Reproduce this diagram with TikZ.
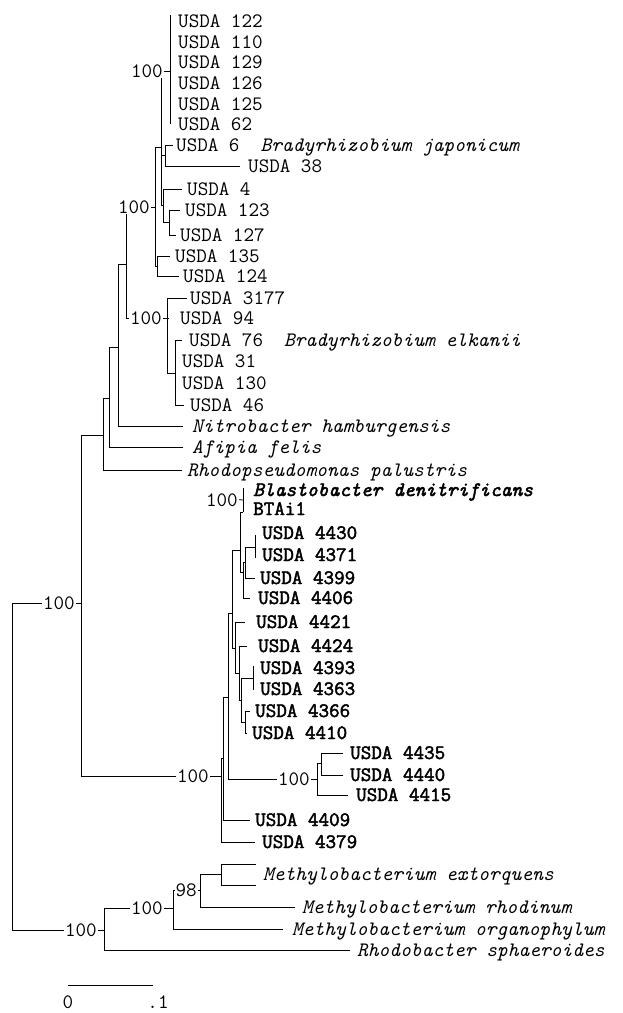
\documentclass[tikz,border=0pt]{standalone}
\usepackage{fontspec}
\newfontfamily\bcour[FakeBold=2.2]{Latin Modern Mono}
\begin{document}
\begin{tikzpicture}[x=1pt,y=-1pt,
  br/.style={line width=0.8pt,black},
  lab/.style={font=\ttfamily\fontsize{20.5}{22}\selectfont, anchor=base west, inner sep=0pt, yshift=-6pt},
  blab/.style={lab, font=\bcour\fontsize{20.5}{22}\selectfont},
  bs/.style={font=\ttfamily\fontsize{20.5}{22}\selectfont, anchor=base east, fill=white, inner xsep=1pt, inner ysep=0.5pt, yshift=-6pt}]
\useasboundingbox[fill=white] (0,0) rectangle (622,1013);
% ---------- internal nodes ----------
\coordinate (R) at (12,766);
\coordinate (N81) at (81,603);
\coordinate (N103) at (103,435);
\coordinate (N109) at (109,398);
\coordinate (N118) at (118,347);
\coordinate (N126) at (126,264);
\coordinate (N155) at (155,207);
\coordinate (N161) at (161,147);
\coordinate (C1) at (170,71);
\coordinate (C1a) at (170,15);
\coordinate (C1b) at (170,124);
\coordinate (N165) at (165,155);
\coordinate (N163) at (163,205);
\coordinate (N169) at (169,222);
\coordinate (N157) at (157,266);
\coordinate (N167) at (167,318);
\coordinate (N175) at (175,373);
% blastobacter clade
\coordinate (N221) at (221,776);
\coordinate (N223) at (223,758);
\coordinate (N228) at (228,697);
\coordinate (N232) at (232,613);
\coordinate (N240) at (240,550);
\coordinate (Nbl) at (243,512);
\coordinate (Nblm) at (243,500);
\coordinate (Bla) at (243,488);
\coordinate (N243) at (243,572);
\coordinate (N245) at (245,562);
\coordinate (C44) at (255,547);
\coordinate (C44a) at (255,535);
\coordinate (C44b) at (255,558);
\coordinate (N235) at (235,648);
\coordinate (N239) at (239,673);
\coordinate (N241) at (241,700);
\coordinate (C43) at (253,678);
\coordinate (C43a) at (253,666);
\coordinate (C43b) at (253,690);
\coordinate (N245b) at (245,722);
\coordinate (N317) at (317,779);
\coordinate (N321) at (321,763);
% methylobacterium
\coordinate (N104) at (104,930);
\coordinate (N173) at (173,908);
\coordinate (N200) at (200,890);
\coordinate (N221m) at (221,874);
% ---------- tips ----------
\coordinate (T6) at (173,145);
\coordinate (T38) at (240,166);
\coordinate (T4) at (182,189);
\coordinate (T123) at (180,210);
\coordinate (T127) at (176,235);
\coordinate (T135) at (170,256);
\coordinate (T124) at (179,276);
\coordinate (T3177) at (187,298);
\coordinate (T94) at (169,318);
\coordinate (T76) at (182,340);
\coordinate (T31) at (175,361);
\coordinate (T130) at (175,383);
\coordinate (T46) at (184,405);
\coordinate (TNit) at (183,426);
\coordinate (TAfi) at (183,447);
\coordinate (TRho) at (182,470);
\coordinate (T4399) at (255,578);
\coordinate (T4406) at (250,598);
\coordinate (T4421) at (245,622);
\coordinate (T4424) at (247,646);
\coordinate (T4366) at (250,711);
\coordinate (T4410) at (247,733);
\coordinate (T4435) at (343,753);
\coordinate (T4440) at (343,775);
\coordinate (T4415) at (348,795);
\coordinate (T4409) at (250,820);
\coordinate (T4379) at (255,842);
\coordinate (TEx1) at (256,864);
\coordinate (TEx2) at (256,885);
\coordinate (TRhd) at (295,907);
\coordinate (TOrg) at (283,929);
\coordinate (TRb) at (350,950);
\coordinate (S0) at (68,985);
\coordinate (S1) at (153,985);
% ---------- branches ----------
\draw[br] (R) |- (N81);
\draw[br] (R) |- (N104);
\draw[br] (N81) |- (N103);
\draw[br] (N81) |- (N221);
\draw[br] (N103) |- (N109);
\draw[br] (N103) |- (TRho);
\draw[br] (N109) |- (N118);
\draw[br] (N109) |- (TAfi);
\draw[br] (N118) |- (N126);
\draw[br] (N118) |- (TNit);
\draw[br] (N126) |- (N155);
\draw[br] (N126) |- (N167);
\draw[br] (N155) |- (N161);
\draw[br] (N155) |- (N157);
\draw[br] (N161) |- (C1);
\draw[br] (C1a) -- (C1b);
\draw[br] (N161) |- (N165);
\draw[br] (N161) |- (N163);
\draw[br] (N165) |- (T6);
\draw[br] (N165) |- (T38);
\draw[br] (N163) |- (T4);
\draw[br] (N163) |- (N169);
\draw[br] (N169) |- (T123);
\draw[br] (N169) |- (T127);
\draw[br] (N157) |- (T135);
\draw[br] (N157) |- (T124);
\draw[br] (N167) |- (T3177);
\draw[br] (N167) |- (T94);
\draw[br] (N167) |- (N175);
\draw[br] (N175) |- (T76);
\draw[br] (N175) |- (T46);
\draw[br] (N221) |- (N223);
\draw[br] (N221) |- (T4379);
\draw[br] (N223) |- (N228);
\draw[br] (N223) |- (T4409);
\draw[br] (N228) |- (N232);
\draw[br] (N228) |- (N317);
\draw[br] (N317) |- (N321);
\draw[br] (N317) |- (T4415);
\draw[br] (N321) |- (T4435);
\draw[br] (N321) |- (T4440);
\draw[br] (N232) |- (N240);
\draw[br] (N232) |- (N235);
\draw[br] (N240) |- (Nbl);
\draw[br] (Bla) -- (Nbl);
\draw[br] (N240) |- (N243);
\draw[br] (N243) |- (N245);
\draw[br] (N243) |- (T4406);
\draw[br] (N245) |- (C44);
\draw[br] (C44a) -- (C44b);
\draw[br] (N245) |- (T4399);
\draw[br] (N235) |- (T4421);
\draw[br] (N235) |- (N239);
\draw[br] (N239) |- (T4424);
\draw[br] (N239) |- (N241);
\draw[br] (N241) |- (C43);
\draw[br] (C43a) -- (C43b);
\draw[br] (N241) |- (N245b);
\draw[br] (N245b) |- (T4366);
\draw[br] (N245b) |- (T4410);
\draw[br] (N104) |- (N173);
\draw[br] (N104) |- (TRb);
\draw[br] (N173) |- (N200);
\draw[br] (N173) |- (TOrg);
\draw[br] (N200) |- (N221m);
\draw[br] (N200) |- (TRhd);
\draw[br] (N221m) |- (TEx1);
\draw[br] (N221m) |- (TEx2);
\draw[br] (S0) -- (S1);
% ---------- bootstrap values ----------
\node[bs] (b1) at (76,603) {100};
\node[bs] (b2) at (210,776) {100};
\node[bs] (b3) at (151,207) {100};
\node[bs] (b4) at (164,71) {100};
\node[bs] (b5) at (163,318) {100};
\node[bs] (b6) at (239,500) {100};
\draw[br] (b6.east) -- (Nblm);
\node[bs] (b7) at (311,779) {100};
\node[bs] (b8) at (98,930) {100};
\node[bs] (b9) at (164,908) {100};
\node[bs] (b10) at (198,890) {98};
% ---------- leaf labels ----------
\node[lab] (l122) at (178,21) {USDA 122};
\node[lab] (l110) at (178,42) {USDA 110};
\node[lab] (l129) at (178,62) {USDA 129};
\node[lab] (l126) at (178,83) {USDA 126};
\node[lab] (l125) at (178,104) {USDA 125};
\node[lab] (l62) at (178,124) {USDA 62};
\node[lab] (l6) at (176,145) {USDA 6~~\textit{Bradyrhizobium japonicum}};
\node[lab] (l38) at (248,166) {USDA 38};
\node[lab] (l4) at (187,189) {USDA 4};
\node[lab] (l123) at (185,210) {USDA 123};
\node[lab] (l127) at (180,235) {USDA 127};
\node[lab] (l135) at (175,256) {USDA 135};
\node[lab] (l124) at (183,276) {USDA 124};
\node[lab] (l3177) at (190,298) {USDA 3177};
\node[lab] (l94) at (180,318) {USDA 94};
\node[lab] (l76) at (189,340) {USDA 76~~\textit{Bradyrhizobium elkanii}};
\node[lab] (l31) at (182,361) {USDA 31};
\node[lab] (l130) at (182,383) {USDA 130};
\node[lab] (l46) at (190,405) {USDA 46};
\node[lab] (lnit) at (192,426) {\textit{Nitrobacter hamburgensis}};
\node[lab] (lafi) at (192,447) {\textit{Afipia felis}};
\node[lab] (lrho) at (187,470) {\textit{Rhodopseudomonas palustris}};
\node[blab] (lbla) at (253,490) {\textit{Blastobacter denitrificans}};
\node[blab] (lbta) at (253,509) {BTAi1};
\node[blab] (l4430) at (262,533) {USDA 4430};
\node[blab] (l4371) at (262,555) {USDA 4371};
\node[blab] (l4399) at (260,578) {USDA 4399};
\node[blab] (l4406) at (258,598) {USDA 4406};
\node[blab] (l4421) at (256,622) {USDA 4421};
\node[blab] (l4424) at (258,646) {USDA 4424};
\node[blab] (l4393) at (260,668) {USDA 4393};
\node[blab] (l4363) at (260,689) {USDA 4363};
\node[blab] (l4366) at (255,711) {USDA 4366};
\node[blab] (l4410) at (252,733) {USDA 4410};
\node[blab] (l4435) at (350,753) {USDA 4435};
\node[blab] (l4440) at (350,775) {USDA 4440};
\node[blab] (l4415) at (356,795) {USDA 4415};
\node[blab] (l4409) at (255,820) {USDA 4409};
\node[blab] (l4379) at (262,842) {USDA 4379};
\node[lab] (lex) at (263,874) {\textit{Methylobacterium extorquens}};
\node[lab] (lrhd) at (302,907) {\textit{Methylobacterium rhodinum}};
\node[lab] (lorg) at (292,929) {\textit{Methylobacterium organophylum}};
\node[lab] (lrb) at (357,950) {\textit{Rhodobacter sphaeroides}};
\node[lab, anchor=base] (s0) at (68,1002) {0};
\node[lab, anchor=base] (s1) at (158,1002) {.1};
\end{tikzpicture}
\end{document}
